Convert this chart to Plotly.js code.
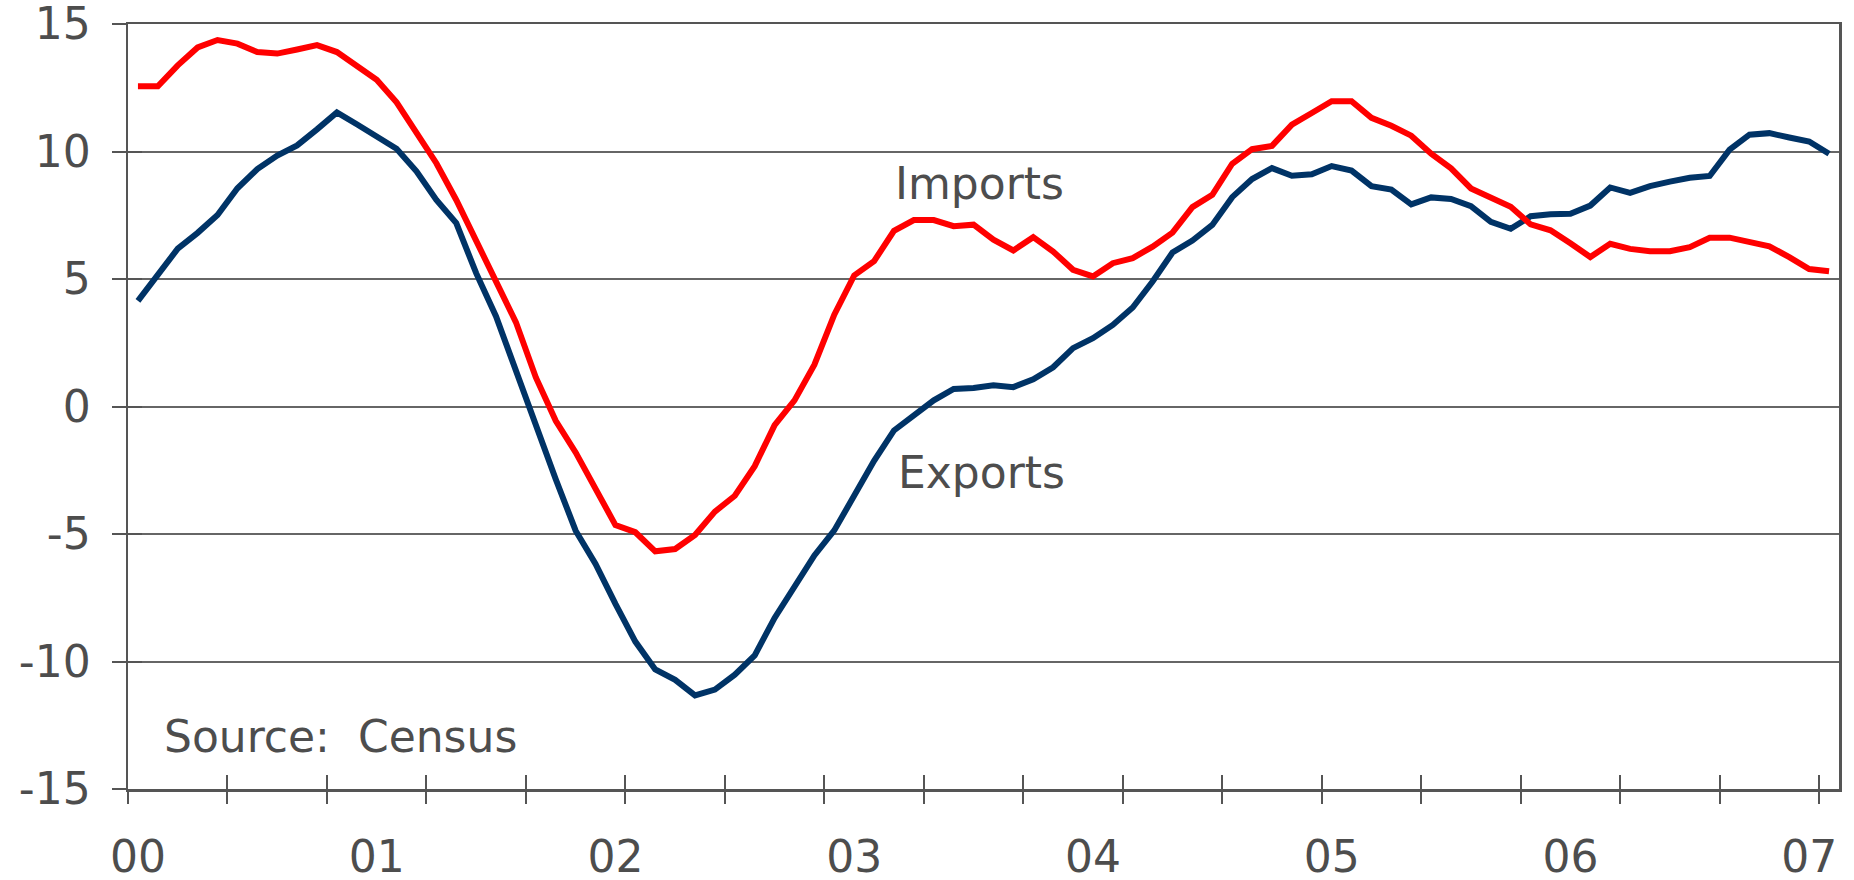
<!DOCTYPE html>
<html>
<head>
<meta charset="utf-8">
<script src="https://cdn.plot.ly/plotly-3.0.1.min.js"></script>
<style>
  html, body { margin: 0; padding: 0; background: #ffffff; }
  #chart { width: 1854px; height: 880px; }
</style>
</head>
<body>
<div id="chart"></div>
<script>
// Monthly, Jan 2000 .. Feb 2007 (86 months), % change y/y
const yearLabels = ['00', '01', '02', '03', '04', '05', '06', '07'];
const yTickVals = [-15, -10, -5, 0, 5, 10, 15];
const yTickText = ['-15', '-10', '-5', '0', '5', '10', '15'];

const imports = [
  12.56, 12.56, 13.38, 14.08, 14.37, 14.23, 13.90, 13.84, 14.00, 14.17, 13.90, 13.38,
  12.81, 11.93, 10.74, 9.54, 8.10, 6.54, 4.97, 3.30, 1.14, -0.56, -1.80, -3.24,
  -4.65, -4.93, -5.68, -5.59, -5.04, -4.12, -3.50, -2.34, -0.73, 0.24, 1.64, 3.60,
  5.14, 5.70, 6.89, 7.31, 7.31, 7.07, 7.13, 6.54, 6.12, 6.64, 6.08, 5.36,
  5.10, 5.62, 5.82, 6.27, 6.82, 7.82, 8.30, 9.52, 10.09, 10.22, 11.05, 11.51,
  11.97, 11.97, 11.32, 11.01, 10.62, 9.91, 9.34, 8.55, 8.16, 7.83, 7.14, 6.91,
  6.40, 5.86, 6.38, 6.18, 6.09, 6.09, 6.25, 6.62, 6.62, 6.45, 6.28, 5.86,
  5.39, 5.30
];

const exports = [
  4.14, 5.20, 6.19, 6.81, 7.51, 8.56, 9.31, 9.84, 10.24, 10.87, 11.53, 11.07,
  10.61, 10.11, 9.22, 8.10, 7.19, 5.23, 3.53, 1.40, -0.82, -2.85, -4.87, -6.17,
  -7.74, -9.22, -10.31, -10.72, -11.33, -11.10, -10.52, -9.76, -8.29, -7.03, -5.84, -4.86,
  -3.53, -2.13, -0.94, -0.38, 0.24, 0.69, 0.73, 0.83, 0.76, 1.07, 1.54, 2.29,
  2.68, 3.20, 3.88, 4.90, 6.04, 6.51, 7.12, 8.21, 8.92, 9.35, 9.05, 9.11,
  9.43, 9.25, 8.64, 8.51, 7.93, 8.20, 8.14, 7.86, 7.24, 6.97, 7.46, 7.54,
  7.56, 7.88, 8.59, 8.38, 8.64, 8.82, 8.97, 9.04, 10.07, 10.66, 10.72, 10.55,
  10.39, 9.91
];

const monthIdx = imports.map((_, i) => i);
const nMonths = imports.length;
const xRange = [-0.5, nMonths - 0.5];
const yearTickVals = yearLabels.map((_, k) => k * 12);
// tick marks every 5 months, on category boundaries
const markTickVals = [];
for (let v = -0.5; v < nMonths - 0.5; v += 5) markTickVals.push(v);

const FONT = 'DejaVu Sans, Verdana, sans-serif';
const TXT = '#4d4d4d';
const AX = '#555555';

const traces = [
  { x: monthIdx, y: exports, type: 'scatter', mode: 'lines', name: 'Exports',
    line: { color: '#003366', width: 6 }, hoverinfo: 'skip' },
  { x: monthIdx, y: imports, type: 'scatter', mode: 'lines', name: 'Imports',
    line: { color: '#ff0000', width: 6 }, hoverinfo: 'skip' },
  // carriers for overlay axes that draw crossing tick marks
  { x: [null], y: [null], xaxis: 'x2', yaxis: 'y2', type: 'scatter', mode: 'lines',
    showlegend: false, hoverinfo: 'skip' },
  { x: [null], y: [null], xaxis: 'x3', yaxis: 'y', type: 'scatter', mode: 'lines',
    showlegend: false, hoverinfo: 'skip' }
];

const layout = {
  width: 1854, height: 880,
  margin: { l: 128, r: 15, t: 24, b: 91 },
  paper_bgcolor: '#ffffff', plot_bgcolor: '#ffffff',
  showlegend: false,
  font: { family: FONT, color: TXT, size: 44 },
  xaxis: {
    range: xRange, fixedrange: true,
    tickmode: 'array', tickvals: yearTickVals, ticktext: yearLabels,
    ticks: '', showgrid: false, zeroline: false,
    showline: true, mirror: true, linecolor: AX, linewidth: 2.5,
    tickfont: { family: FONT, size: 44, color: TXT },
    ticklabelstandoff: 28, ticklabeloverflow: 'allow'
  },
  xaxis2: {
    overlaying: 'x', anchor: 'y', side: 'bottom', range: xRange, fixedrange: true,
    tickmode: 'array', tickvals: markTickVals, ticks: 'outside', ticklen: 14,
    tickwidth: 2, tickcolor: AX, showticklabels: false, showgrid: false,
    zeroline: false, showline: false
  },
  xaxis3: {
    overlaying: 'x', anchor: 'y', side: 'bottom', range: xRange, fixedrange: true,
    tickmode: 'array', tickvals: markTickVals, ticks: 'inside', ticklen: 14,
    tickwidth: 2, tickcolor: AX, showticklabels: false, showgrid: false,
    zeroline: false, showline: false
  },
  yaxis: {
    range: [-15, 15], fixedrange: true,
    tickmode: 'array', tickvals: yTickVals, ticktext: yTickText,
    ticks: 'outside', ticklen: 14, tickwidth: 2, tickcolor: AX,
    showgrid: true, gridcolor: '#666666', gridwidth: 2,
    zeroline: false, showline: true, mirror: true, linecolor: AX, linewidth: 2.5,
    tickfont: { family: FONT, size: 44, color: TXT },
    ticklabelstandoff: 12, ticklabeloverflow: 'allow'
  },
  yaxis2: {
    overlaying: 'y', anchor: 'x', side: 'left', range: [-15, 15], fixedrange: true,
    tickmode: 'array', tickvals: yTickVals, ticks: 'inside', ticklen: 14,
    tickwidth: 2, tickcolor: AX, showticklabels: false, showgrid: false,
    zeroline: false, showline: false
  },
  annotations: [
    { x: 42.3, y: 8.73, xref: 'x', yref: 'y', text: 'Imports', showarrow: false,
      xanchor: 'center', yanchor: 'middle', font: { family: FONT, size: 44, color: TXT } },
    { x: 42.4, y: -2.6, xref: 'x', yref: 'y', text: 'Exports', showarrow: false,
      xanchor: 'center', yanchor: 'middle', font: { family: FONT, size: 44, color: TXT } },
    { x: 1.2, y: -12.94, xref: 'x', yref: 'y', text: 'Source:&nbsp; Census', showarrow: false,
      xanchor: 'left', yanchor: 'middle', font: { family: FONT, size: 44, color: TXT } }
  ]
};

Plotly.newPlot('chart', traces, layout, { staticPlot: true, displayModeBar: false });
</script>
</body>
</html>
